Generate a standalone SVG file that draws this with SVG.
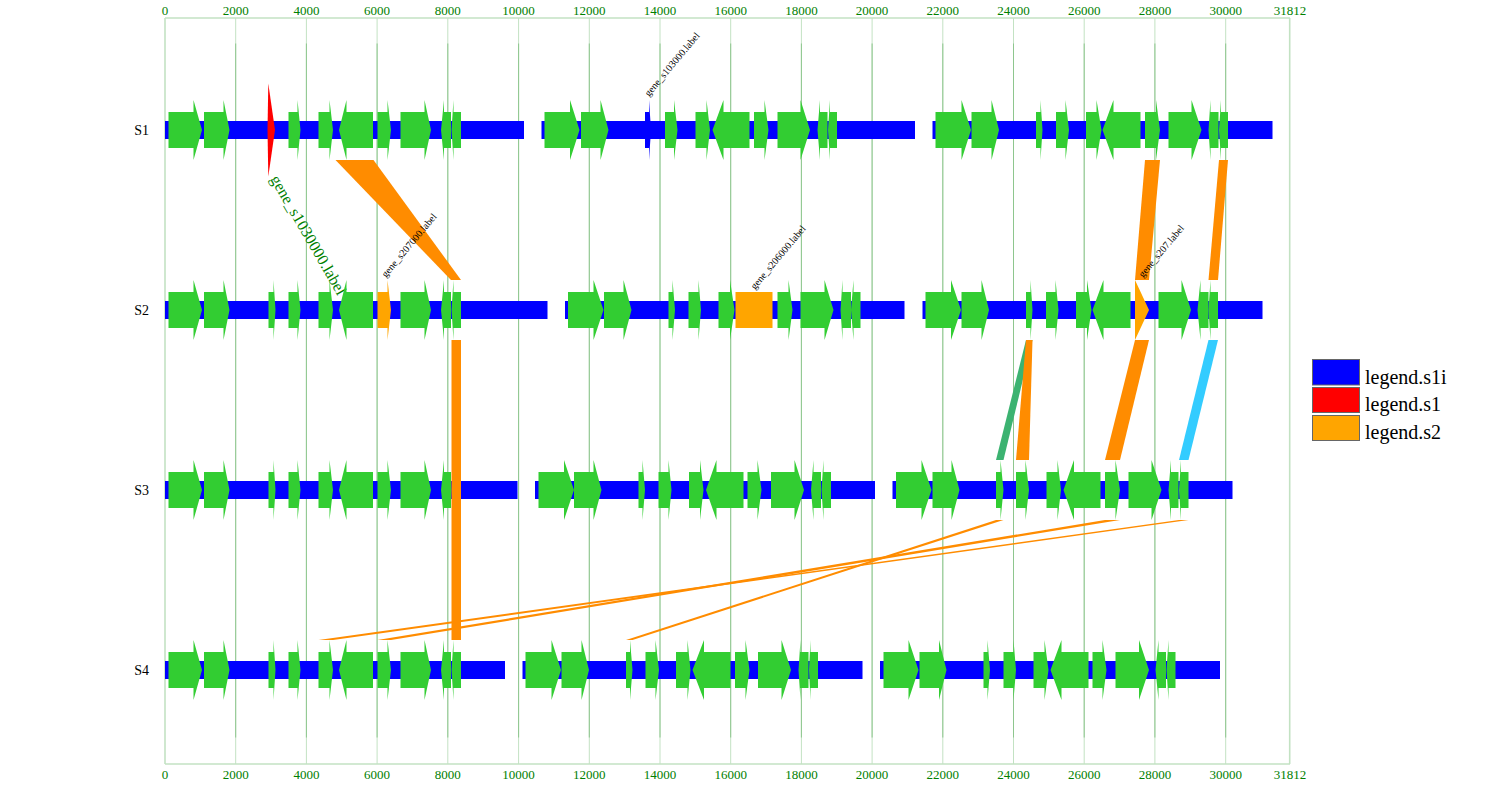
<svg xmlns="http://www.w3.org/2000/svg" width="1500" height="800" viewBox="0 0 1500 800">
<style>
.bar{fill:#0000ff}
.gene{fill:#32cd32}
.og{fill:#ffa500}
.red{fill:#ff0000}
.conn{fill:#ff8c00}
.frame{stroke:#c3e2c3;stroke-width:1.6;fill:none}
.grid{stroke:#c3e2c3;stroke-width:1}
.gridi{stroke:#8ec68e;stroke-width:1}
.axl{font-family:"Liberation Serif",serif;font-size:13px;fill:#008000;text-anchor:middle}
.rowl{font-family:"Liberation Serif",serif;font-size:14px;fill:#000;text-anchor:end}
.lab{font-family:"Liberation Serif",serif;font-size:10px;fill:#000}
.big{font-family:"Liberation Serif",serif;font-size:16px;fill:#008000}
.leg{font-family:"Liberation Serif",serif;font-size:20px;fill:#000}
.legr{stroke:#666;stroke-width:1}
</style>
<rect width="1500" height="800" fill="#ffffff"/>
<g id="axis">
<line class="frame" x1="165" y1="18" x2="1290" y2="18"/>
<line class="frame" x1="165" y1="764" x2="1290" y2="764"/>
<line class="frame" x1="165" y1="18" x2="165" y2="764"/>
<line class="frame" x1="1289.7" y1="18" x2="1289.7" y2="764"/>
<g class="grid">
<line x1="235.7" y1="18" x2="235.7" y2="764"/><line x1="306.4" y1="18" x2="306.4" y2="764"/><line x1="377.1" y1="18" x2="377.1" y2="764"/><line x1="447.8" y1="18" x2="447.8" y2="764"/><line x1="518.6" y1="18" x2="518.6" y2="764"/><line x1="589.3" y1="18" x2="589.3" y2="764"/><line x1="660" y1="18" x2="660" y2="764"/><line x1="730.7" y1="18" x2="730.7" y2="764"/><line x1="801.4" y1="18" x2="801.4" y2="764"/><line x1="872.1" y1="18" x2="872.1" y2="764"/><line x1="942.8" y1="18" x2="942.8" y2="764"/><line x1="1013.5" y1="18" x2="1013.5" y2="764"/><line x1="1084.2" y1="18" x2="1084.2" y2="764"/><line x1="1154.9" y1="18" x2="1154.9" y2="764"/><line x1="1225.7" y1="18" x2="1225.7" y2="764"/>
</g>
<g class="gridi">
<line x1="235.7" y1="43.5" x2="235.7" y2="737.5"/><line x1="306.4" y1="43.5" x2="306.4" y2="737.5"/><line x1="377.1" y1="43.5" x2="377.1" y2="737.5"/><line x1="447.8" y1="43.5" x2="447.8" y2="737.5"/><line x1="518.6" y1="43.5" x2="518.6" y2="737.5"/><line x1="589.3" y1="43.5" x2="589.3" y2="737.5"/><line x1="660" y1="43.5" x2="660" y2="737.5"/><line x1="730.7" y1="43.5" x2="730.7" y2="737.5"/><line x1="801.4" y1="43.5" x2="801.4" y2="737.5"/><line x1="872.1" y1="43.5" x2="872.1" y2="737.5"/><line x1="942.8" y1="43.5" x2="942.8" y2="737.5"/><line x1="1013.5" y1="43.5" x2="1013.5" y2="737.5"/><line x1="1084.2" y1="43.5" x2="1084.2" y2="737.5"/><line x1="1154.9" y1="43.5" x2="1154.9" y2="737.5"/><line x1="1225.7" y1="43.5" x2="1225.7" y2="737.5"/>
</g>
<g class="axl">
<text x="165" y="15">0</text><text x="235.7" y="15">2000</text><text x="306.4" y="15">4000</text><text x="377.1" y="15">6000</text><text x="447.8" y="15">8000</text><text x="518.6" y="15">10000</text><text x="589.3" y="15">12000</text><text x="660" y="15">14000</text><text x="730.7" y="15">16000</text><text x="801.4" y="15">18000</text><text x="872.1" y="15">20000</text><text x="942.8" y="15">22000</text><text x="1013.5" y="15">24000</text><text x="1084.2" y="15">26000</text><text x="1154.9" y="15">28000</text><text x="1225.7" y="15">30000</text><text x="1290" y="15">31812</text>
<text x="165" y="779">0</text><text x="235.7" y="779">2000</text><text x="306.4" y="779">4000</text><text x="377.1" y="779">6000</text><text x="447.8" y="779">8000</text><text x="518.6" y="779">10000</text><text x="589.3" y="779">12000</text><text x="660" y="779">14000</text><text x="730.7" y="779">16000</text><text x="801.4" y="779">18000</text><text x="872.1" y="779">20000</text><text x="942.8" y="779">22000</text><text x="1013.5" y="779">24000</text><text x="1084.2" y="779">26000</text><text x="1154.9" y="779">28000</text><text x="1225.7" y="779">30000</text><text x="1290" y="779">31812</text>
</g>
</g>
<g id="S1">
<text class="rowl" x="149" y="135">S1</text>
<g transform="translate(0,130)">
<rect class="bar" x="165" y="-9" width="359" height="18"/>
<rect class="bar" x="541.5" y="-9" width="373.5" height="18"/>
<rect class="bar" x="932.5" y="-9" width="340" height="18"/>
<g class="gene">
<polygon points="168.5,-18 193.5,-18 193.5,-30 202,0 193.5,30 193.5,18 168.5,18"/>
<polygon points="204,-18 223.5,-18 223.5,-30 229.5,0 223.5,30 223.5,18 204,18"/>
<polygon points="288.5,-18 297.5,-18 297.5,-30 300.5,0 297.5,30 297.5,18 288.5,18"/>
<polygon points="318.5,-18 329.5,-18 329.5,-30 333,0 329.5,30 329.5,18 318.5,18"/>
<polygon points="339,0 346.5,-30 346.5,-18 373,-18 373,18 346.5,18 346.5,30"/>
<polygon points="377.5,-18 387.5,-18 387.5,-30 391,0 387.5,30 387.5,18 377.5,18"/>
<polygon points="400.5,-18 424.5,-18 424.5,-30 431,0 424.5,30 424.5,18 400.5,18"/>
<polygon points="441,0 444,-30 444,-18 451,-18 451,18 444,18 444,30"/>
<polygon points="451.5,0 453.5,-30 453.5,-18 461,-18 461,18 453.5,18 453.5,30"/>
<polygon points="544.5,-18 570,-18 570,-30 579.5,0 570,30 570,18 544.5,18"/>
<polygon points="581,-18 600.5,-18 600.5,-30 608.5,0 600.5,30 600.5,18 581,18"/>
<polygon points="665,-18 674,-18 674,-30 677.5,0 674,30 674,18 665,18"/>
<polygon points="695.5,-18 706.5,-18 706.5,-30 710,0 706.5,30 706.5,18 695.5,18"/>
<polygon points="712.5,0 723.5,-30 723.5,-18 749.5,-18 749.5,18 723.5,18 723.5,30"/>
<polygon points="754,-18 764.5,-18 764.5,-30 768.5,0 764.5,30 764.5,18 754,18"/>
<polygon points="777.5,-18 800.5,-18 800.5,-30 810,0 800.5,30 800.5,18 777.5,18"/>
<polygon points="817.5,0 820,-30 820,-18 827.5,-18 827.5,18 820,18 820,30"/>
<polygon points="828,0 830,-30 830,-18 837,-18 837,18 830,18 830,30"/>
<polygon points="935.5,-18 961.5,-18 961.5,-30 971,0 961.5,30 961.5,18 935.5,18"/>
<polygon points="971.5,-18 991.5,-18 991.5,-30 999,0 991.5,30 991.5,18 971.5,18"/>
<polygon points="1036,-18 1040.5,-18 1040.5,-30 1042.5,0 1040.5,30 1040.5,18 1036,18"/>
<polygon points="1056,-18 1065.5,-18 1065.5,-30 1069,0 1065.5,30 1065.5,18 1056,18"/>
<polygon points="1086,-18 1096.5,-18 1096.5,-30 1101.5,0 1096.5,30 1096.5,18 1086,18"/>
<polygon points="1102.5,0 1113.5,-30 1113.5,-18 1140.5,-18 1140.5,18 1113.5,18 1113.5,30"/>
<polygon points="1145,-18 1156,-18 1156,-30 1160,0 1156,30 1156,18 1145,18"/>
<polygon points="1168.5,-18 1191.5,-18 1191.5,-30 1201.5,0 1191.5,30 1191.5,18 1168.5,18"/>
<polygon points="1208.5,0 1210.5,-30 1210.5,-18 1218.5,-18 1218.5,18 1210.5,18 1210.5,30"/>
<polygon points="1219,0 1221,-30 1221,-18 1228,-18 1228,18 1221,18 1221,30"/>
</g>
<polygon class="red" points="268.3,-46.5 275,0 268.3,46.5 267.5,0"/>
<polygon class="bar" points="645,-18 649,-18 649,-30 651,0 649,30 649,18 645,18"/>
</g>
<text class="big" transform="translate(270,179) rotate(60)">gene_s1030000.label</text>
</g>
<g id="S2">
<text class="rowl" x="149" y="315">S2</text>
<g transform="translate(0,310)">
<rect class="bar" x="165" y="-9" width="382.5" height="18"/>
<rect class="bar" x="565" y="-9" width="339.5" height="18"/>
<rect class="bar" x="922.5" y="-9" width="340" height="18"/>
<g class="gene">
<polygon points="168.5,-18 193.5,-18 193.5,-30 202,0 193.5,30 193.5,18 168.5,18"/>
<polygon points="204,-18 223.5,-18 223.5,-30 229.5,0 223.5,30 223.5,18 204,18"/>
<polygon points="268.5,-18 273.5,-18 273.5,-30 275.5,0 273.5,30 273.5,18 268.5,18"/>
<polygon points="288.5,-18 297.5,-18 297.5,-30 300.5,0 297.5,30 297.5,18 288.5,18"/>
<polygon points="318.5,-18 329.5,-18 329.5,-30 333,0 329.5,30 329.5,18 318.5,18"/>
<polygon points="339,0 346.5,-30 346.5,-18 373,-18 373,18 346.5,18 346.5,30"/>
<polygon points="400.5,-18 424.5,-18 424.5,-30 431,0 424.5,30 424.5,18 400.5,18"/>
<polygon points="441,0 444,-30 444,-18 451,-18 451,18 444,18 444,30"/>
<polygon points="451.5,0 453.5,-30 453.5,-18 461,-18 461,18 453.5,18 453.5,30"/>
<polygon points="568,-18 593.5,-18 593.5,-30 603.5,0 593.5,30 593.5,18 568,18"/>
<polygon points="604,-18 623.5,-18 623.5,-30 631.5,0 623.5,30 623.5,18 604,18"/>
<polygon points="668.5,-18 672.5,-18 672.5,-30 675,0 672.5,30 672.5,18 668.5,18"/>
<polygon points="688.5,-18 698.5,-18 698.5,-30 701,0 698.5,30 698.5,18 688.5,18"/>
<polygon points="718.5,-18 730,-18 730,-30 734.5,0 730,30 730,18 718.5,18"/>
<polygon points="777.5,-18 788.5,-18 788.5,-30 792.5,0 788.5,30 788.5,18 777.5,18"/>
<polygon points="800.5,-18 824.5,-18 824.5,-30 833.5,0 824.5,30 824.5,18 800.5,18"/>
<polygon points="840.5,0 842.5,-30 842.5,-18 851,-18 851,18 842.5,18 842.5,30"/>
<polygon points="851,0 853.5,-30 853.5,-18 860.5,-18 860.5,18 853.5,18 853.5,30"/>
<polygon points="925.5,-18 951,-18 951,-30 961,0 951,30 951,18 925.5,18"/>
<polygon points="961.5,-18 981.5,-18 981.5,-30 989,0 981.5,30 981.5,18 961.5,18"/>
<polygon points="1026,-18 1030.5,-18 1030.5,-30 1032.5,0 1030.5,30 1030.5,18 1026,18"/>
<polygon points="1046,-18 1055.5,-18 1055.5,-30 1058.5,0 1055.5,30 1055.5,18 1046,18"/>
<polygon points="1076,-18 1087,-18 1087,-30 1091.5,0 1087,30 1087,18 1076,18"/>
<polygon points="1092.5,0 1103.5,-30 1103.5,-18 1130.5,-18 1130.5,18 1103.5,18 1103.5,30"/>
<polygon points="1158.5,-18 1181.5,-18 1181.5,-30 1191,0 1181.5,30 1181.5,18 1158.5,18"/>
<polygon points="1197.5,0 1200.5,-30 1200.5,-18 1208.5,-18 1208.5,18 1200.5,18 1200.5,30"/>
<polygon points="1208.5,0 1210.5,-30 1210.5,-18 1218,-18 1218,18 1210.5,18 1210.5,30"/>
</g>
<g class="og">
<polygon points="377.5,-18 387.5,-18 387.5,-30 391,0 387.5,30 387.5,18 377.5,18"/>
<rect x="735.5" y="-18" width="37" height="36"/>
<polygon points="1135,-30 1149,0 1135,30"/>
</g>
</g>
</g>
<g id="S3">
<text class="rowl" x="149" y="495">S3</text>
<g transform="translate(0,490)">
<rect class="bar" x="165" y="-9" width="352.5" height="18"/>
<rect class="bar" x="535" y="-9" width="340" height="18"/>
<rect class="bar" x="892.5" y="-9" width="340" height="18"/>
<g class="gene">
<polygon points="168.5,-18 193.5,-18 193.5,-30 202,0 193.5,30 193.5,18 168.5,18"/>
<polygon points="204,-18 223.5,-18 223.5,-30 229.5,0 223.5,30 223.5,18 204,18"/>
<polygon points="268.5,-18 273.5,-18 273.5,-30 275.5,0 273.5,30 273.5,18 268.5,18"/>
<polygon points="288.5,-18 297.5,-18 297.5,-30 300.5,0 297.5,30 297.5,18 288.5,18"/>
<polygon points="318.5,-18 329.5,-18 329.5,-30 333,0 329.5,30 329.5,18 318.5,18"/>
<polygon points="339,0 346.5,-30 346.5,-18 373,-18 373,18 346.5,18 346.5,30"/>
<polygon points="377.5,-18 387.5,-18 387.5,-30 391,0 387.5,30 387.5,18 377.5,18"/>
<polygon points="400.5,-18 424.5,-18 424.5,-30 431,0 424.5,30 424.5,18 400.5,18"/>
<polygon points="441,0 444,-30 444,-18 451,-18 451,18 444,18 444,30"/>
<polygon points="451.5,0 453.5,-30 453.5,-18 461,-18 461,18 453.5,18 453.5,30"/>
<polygon points="538.5,-18 564,-18 564,-30 574,0 564,30 564,18 538.5,18"/>
<polygon points="574,-18 593.5,-18 593.5,-30 601.5,0 593.5,30 593.5,18 574,18"/>
<polygon points="638.5,-18 642.5,-18 642.5,-30 645,0 642.5,30 642.5,18 638.5,18"/>
<polygon points="658.5,-18 668.5,-18 668.5,-30 671.5,0 668.5,30 668.5,18 658.5,18"/>
<polygon points="689,-18 700,-18 700,-30 703.5,0 700,30 700,18 689,18"/>
<polygon points="706,0 716.5,-30 716.5,-18 743.5,-18 743.5,18 716.5,18 716.5,30"/>
<polygon points="747.5,-18 757.5,-18 757.5,-30 761.5,0 757.5,30 757.5,18 747.5,18"/>
<polygon points="771,-18 794.5,-18 794.5,-30 804,0 794.5,30 794.5,18 771,18"/>
<polygon points="811,0 813.5,-30 813.5,-18 821,-18 821,18 813.5,18 813.5,30"/>
<polygon points="821.5,0 823.5,-30 823.5,-18 831,-18 831,18 823.5,18 823.5,30"/>
<polygon points="896,-18 921.5,-18 921.5,-30 931.5,0 921.5,30 921.5,18 896,18"/>
<polygon points="932.5,-18 951.5,-18 951.5,-30 959.5,0 951.5,30 951.5,18 932.5,18"/>
<polygon points="996,-18 1000.5,-18 1000.5,-30 1003.5,0 1000.5,30 1000.5,18 996,18"/>
<polygon points="1016,-18 1025.5,-18 1025.5,-30 1029,0 1025.5,30 1025.5,18 1016,18"/>
<polygon points="1046.5,-18 1057.5,-18 1057.5,-30 1061,0 1057.5,30 1057.5,18 1046.5,18"/>
<polygon points="1063.5,0 1074,-30 1074,-18 1100.5,-18 1100.5,18 1074,18 1074,30"/>
<polygon points="1105,-18 1115.5,-18 1115.5,-30 1120,0 1115.5,30 1115.5,18 1105,18"/>
<polygon points="1128.5,-18 1151.5,-18 1151.5,-30 1161.5,0 1151.5,30 1151.5,18 1128.5,18"/>
<polygon points="1168.5,0 1171,-30 1171,-18 1178.5,-18 1178.5,18 1171,18 1171,30"/>
<polygon points="1179,0 1181,-30 1181,-18 1188.5,-18 1188.5,18 1181,18 1181,30"/>
</g>
</g>
</g>
<g id="S4">
<text class="rowl" x="149" y="675">S4</text>
<g transform="translate(0,670)">
<rect class="bar" x="165" y="-9" width="340" height="18"/>
<rect class="bar" x="522.5" y="-9" width="340" height="18"/>
<rect class="bar" x="880" y="-9" width="340" height="18"/>
<g class="gene">
<polygon points="168.5,-18 193.5,-18 193.5,-30 202,0 193.5,30 193.5,18 168.5,18"/>
<polygon points="204,-18 223.5,-18 223.5,-30 229.5,0 223.5,30 223.5,18 204,18"/>
<polygon points="268.5,-18 273.5,-18 273.5,-30 275.5,0 273.5,30 273.5,18 268.5,18"/>
<polygon points="288.5,-18 297.5,-18 297.5,-30 300.5,0 297.5,30 297.5,18 288.5,18"/>
<polygon points="318.5,-18 329.5,-18 329.5,-30 333,0 329.5,30 329.5,18 318.5,18"/>
<polygon points="339,0 346.5,-30 346.5,-18 373,-18 373,18 346.5,18 346.5,30"/>
<polygon points="377.5,-18 387.5,-18 387.5,-30 391,0 387.5,30 387.5,18 377.5,18"/>
<polygon points="400.5,-18 424.5,-18 424.5,-30 431,0 424.5,30 424.5,18 400.5,18"/>
<polygon points="441,0 444,-30 444,-18 451,-18 451,18 444,18 444,30"/>
<polygon points="451.5,0 453.5,-30 453.5,-18 461,-18 461,18 453.5,18 453.5,30"/>
<polygon points="525.5,-18 551.5,-18 551.5,-30 561,0 551.5,30 551.5,18 525.5,18"/>
<polygon points="561.5,-18 581.5,-18 581.5,-30 589,0 581.5,30 581.5,18 561.5,18"/>
<polygon points="626,-18 630,-18 630,-30 632.5,0 630,30 630,18 626,18"/>
<polygon points="645.5,-18 655.5,-18 655.5,-30 659,0 655.5,30 655.5,18 645.5,18"/>
<polygon points="676,-18 687.5,-18 687.5,-30 690.5,0 687.5,30 687.5,18 676,18"/>
<polygon points="692.5,0 704,-30 704,-18 730.5,-18 730.5,18 704,18 704,30"/>
<polygon points="735,-18 745.5,-18 745.5,-30 749.5,0 745.5,30 745.5,18 735,18"/>
<polygon points="758,-18 781.5,-18 781.5,-30 791,0 781.5,30 781.5,18 758,18"/>
<polygon points="798.5,0 800.5,-30 800.5,-18 808.5,-18 808.5,18 800.5,18 800.5,30"/>
<polygon points="809,0 810.5,-30 810.5,-18 818,-18 818,18 810.5,18 810.5,30"/>
<polygon points="883.5,-18 908.5,-18 908.5,-30 918.5,0 908.5,30 908.5,18 883.5,18"/>
<polygon points="919.5,-18 939,-18 939,-30 946.5,0 939,30 939,18 919.5,18"/>
<polygon points="983.5,-18 987.5,-18 987.5,-30 990,0 987.5,30 987.5,18 983.5,18"/>
<polygon points="1003.5,-18 1013.5,-18 1013.5,-30 1016,0 1013.5,30 1013.5,18 1003.5,18"/>
<polygon points="1033.5,-18 1044.5,-18 1044.5,-30 1048.5,0 1044.5,30 1044.5,18 1033.5,18"/>
<polygon points="1050.5,0 1061.5,-30 1061.5,-18 1088.5,-18 1088.5,18 1061.5,18 1061.5,30"/>
<polygon points="1092.5,-18 1102.5,-18 1102.5,-30 1106.5,0 1102.5,30 1102.5,18 1092.5,18"/>
<polygon points="1115.5,-18 1139,-18 1139,-30 1149,0 1139,30 1139,18 1115.5,18"/>
<polygon points="1155.5,0 1158.5,-30 1158.5,-18 1166,-18 1166,18 1158.5,18 1158.5,30"/>
<polygon points="1166.5,0 1168.5,-30 1168.5,-18 1175.5,-18 1175.5,18 1168.5,18 1168.5,30"/>
</g>
</g>
</g>
<g id="connectors">
<polygon class="conn" points="335.5,160 373.5,160 461,280 451,280"/>
<polygon class="conn" points="1145,160 1160,160 1149,280 1135,280"/>
<polygon class="conn" points="1219,160 1228,160 1218,280 1208.5,280"/>
<polygon class="conn" points="451.5,340 461,340 461,640 451.5,640"/>
<polygon fill="#3cb371" points="1026,340 1032.5,340 1003.5,460 996,460"/>
<polygon class="conn" points="1026,340 1032.5,340 1029,460 1016,460"/>
<polygon class="conn" points="1135,340 1149,340 1120,460 1105,460"/>
<polygon fill="#33ccff" points="1208.5,340 1218,340 1188.5,460 1179,460"/>
<polygon class="conn" points="996,520 1003.5,520 632.5,640 626,640"/>
<polygon class="conn" points="1105,520 1120,520 391,640 377.5,640"/>
<polygon class="conn" points="1179,520 1188.5,520 333,640 318.5,640"/>
</g>
<g id="gene-labels">
<text class="lab" transform="translate(649,97) rotate(-50)">gene_s103000.label</text>
<text class="lab" transform="translate(386,278) rotate(-50)">gene_s207000.label</text>
<text class="lab" transform="translate(755,290) rotate(-50)">gene_s206000.label</text>
<text class="lab" transform="translate(1143,278) rotate(-50)">gene_s207.label</text>
</g>
<g id="legend">
<rect class="legr" x="1312.5" y="359.5" width="47" height="25.5" fill="#0000ff"/>
<rect class="legr" x="1312.5" y="387.5" width="47" height="25" fill="#ff0000"/>
<rect class="legr" x="1312.5" y="415.5" width="47" height="25" fill="#ffa500"/>
<text class="leg" x="1365" y="383.5">legend.s1i</text>
<text class="leg" x="1365" y="411">legend.s1</text>
<text class="leg" x="1365" y="438.5">legend.s2</text>
</g>
</svg>
